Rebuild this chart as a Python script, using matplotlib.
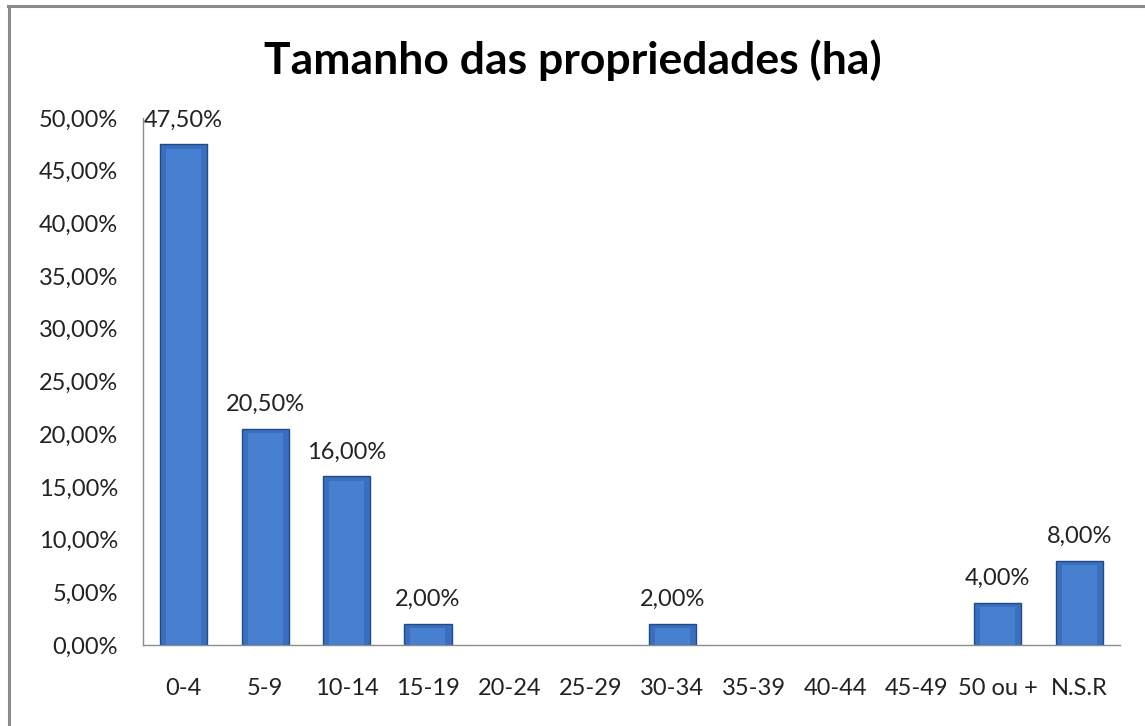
import matplotlib.pyplot as plt
from matplotlib.lines import Line2D
import numpy as np

categories = ["0-4", "5-9", "10-14", "15-19", "20-24", "25-29", "30-34",
              "35-39", "40-44", "45-49", "50 ou +", "N.S.R"]
values = [0.475, 0.205, 0.16, 0.02, 0, 0, 0.02, 0, 0, 0, 0.04, 0.08]

plt.rcParams['font.family'] = ['Lato', 'DejaVu Sans']

fig = plt.figure(figsize=(11.45, 7.26), dpi=100)
ax = fig.add_axes([143/1145, 1 - 645/726, (1120 - 143)/1145, (645 - 118)/726])

x = np.arange(len(categories))
w = 0.58
edges = ['#1f4a85' if v > 0 else 'none' for v in values]
ax.bar(x, values, width=w, color='#3a6fbf', edgecolor=edges, linewidth=1.0, zorder=2)
# lighter inner face to mimic the bevel
inner = [max(v - 0.004, 0) for v in values]
ax.bar(x, inner, width=w * 0.74, color='#4680cf', linewidth=0, zorder=3)

for xi, v in zip(x, values):
    if v > 0:
        ax.text(xi, v + 0.013, f"{v*100:.2f}%".replace('.', ','),
                ha='center', va='bottom', fontsize=17, color='#222222')

ticks = np.arange(0, 0.501, 0.05)
ax.set_ylim(0, 0.5)
ax.set_xlim(-0.5, len(categories) - 0.5)
ax.set_yticks(ticks)
ax.set_yticklabels([f"{t*100:.2f}%".replace('.', ',') for t in ticks],
                   fontsize=17, color='#222222')
ax.set_xticks(x)
ax.set_xticklabels(categories, fontsize=17, color='#222222')
ax.tick_params(axis='both', length=0)
ax.tick_params(axis='y', pad=18)
ax.tick_params(axis='x', pad=24)
for s in ['top', 'right']:
    ax.spines[s].set_visible(False)
for s in ['left', 'bottom']:
    ax.spines[s].set_color('#8c8c8c')
    ax.spines[s].set_linewidth(1.0)

fig.suptitle("Tamanho das propriedades (ha)", fontsize=32, fontweight='bold',
             y=1 - 60/726, va='center')

# outer chart border (left and top visible)
fig.add_artist(Line2D([9/1145, 9/1145], [0, 1 - 6/726], transform=fig.transFigure,
                      color='#8a8a8a', linewidth=2.2))
fig.add_artist(Line2D([8/1145, 1], [1 - 6/726, 1 - 6/726], transform=fig.transFigure,
                      color='#8a8a8a', linewidth=2.2))

fig.savefig("out.png", dpi=100)
